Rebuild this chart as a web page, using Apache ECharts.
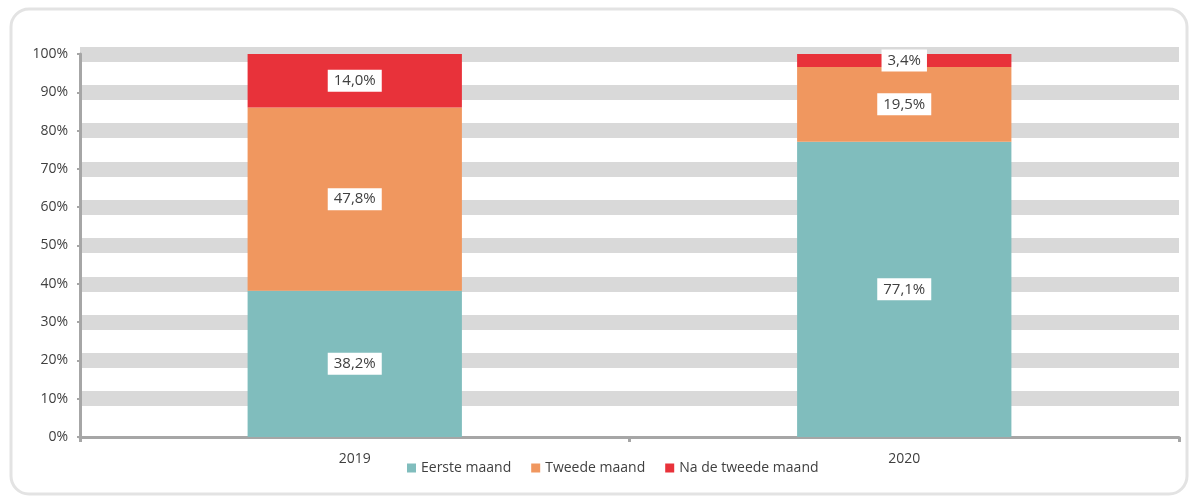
<!DOCTYPE html>
<html>
<head>
<meta charset="utf-8">
<script src="https://cdn.jsdelivr.net/npm/echarts@6/dist/echarts.min.js"></script>
<style>
html,body{margin:0;padding:0;background:#fff;}
#c{width:1192px;height:498px;}
</style>
</head>
<body>
<div id="c"></div>
<script>
const categories = ['2019', '2020'];
const eersteMaand = [38.2, 77.1];
const tweedeMaand = [47.8, 19.5];
const naTweedeMaand = [14.0, 3.4];
const seriesNames = ['Eerste maand', 'Tweede maand', 'Na de tweede maand'];
const yTicks = [0, 10, 20, 30, 40, 50, 60, 70, 80, 90, 100];

const colors = ['#80bdbd', '#f0975f', '#e8323a'];
const font = "'Open Sans', 'Noto Sans', sans-serif";

const chart = echarts.init(document.getElementById('c'));
const bandColors = yTicks.map((v, i) => i === 0 ? 'rgba(0,0,0,0)' : '#d9d9d9');

const label = {
  show: true,
  position: 'inside',
  formatter: p => p.value.toFixed(1).replace('.', ',') + '%',
  backgroundColor: '#ffffff',
  color: '#404040',
  fontFamily: font,
  fontSize: 15,
  padding: [4, 6, 3, 6]
};

function mk(name, data, color) {
  return {
    name, type: 'bar', stack: 'total', data,
    barWidth: '39%',
    itemStyle: { color },
    label
  };
}

chart.setOption({
  animation: false,
  graphic: [{
    type: 'rect',
    shape: { x: 11, y: 9, width: 1176, height: 485, r: 18 },
    style: { fill: 'none', stroke: '#e3e3e3', lineWidth: 3 },
    z: -10
  }],
  grid: { left: 80, right: 13, top: 54, bottom: 61 },
  legend: {
    bottom: 18,
    left: 402,
    icon: 'rect',
    itemWidth: 9,
    itemHeight: 9,
    itemGap: 20,
    itemStyle: { borderWidth: 0 },
    textStyle: { color: '#404040', fontFamily: font, fontSize: 14 },
    data: seriesNames
  },
  xAxis: {
    type: 'category',
    data: categories,
    axisLine: { lineStyle: { color: '#a6a6a6', width: 3 } },
    axisTick: { show: true, length: 5, lineStyle: { color: '#a6a6a6', width: 3 } },
    axisLabel: { color: '#404040', fontFamily: font, fontSize: 14, margin: 15 }
  },
  yAxis: {
    type: 'value',
    min: 0, max: 100, interval: 10,
    axisLine: { show: true, lineStyle: { color: '#a6a6a6', width: 3 } },
    axisTick: { show: true, length: 3, lineStyle: { color: '#a6a6a6', width: 2 } },
    axisLabel: { color: '#404040', fontFamily: font, fontSize: 14, margin: 12,
      formatter: v => v + '%' },
    splitLine: { show: true, lineStyle: { color: bandColors, width: 15 } }
  },
  series: [
    mk(seriesNames[0], eersteMaand, colors[0]),
    mk(seriesNames[1], tweedeMaand, colors[1]),
    mk(seriesNames[2], naTweedeMaand, colors[2])
  ]
});
</script>
</body>
</html>
